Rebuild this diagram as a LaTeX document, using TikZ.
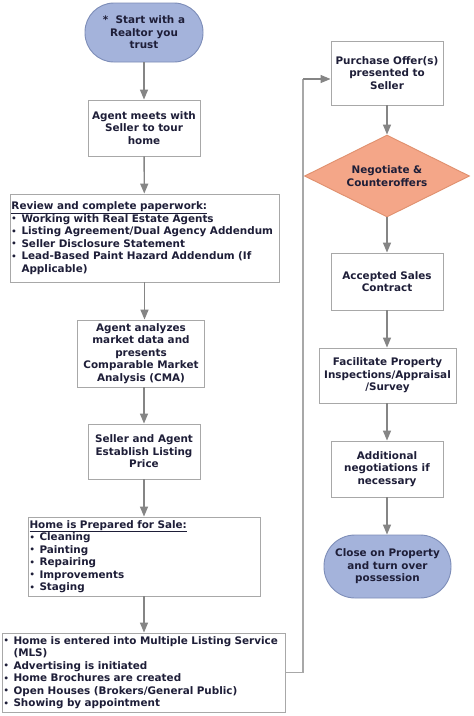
\documentclass[tikz,border=0pt]{standalone}
\usepackage{fontspec}
\setmainfont{DejaVu Sans}[BoldFont={DejaVu Sans Bold}]
\usetikzlibrary{arrows.meta,shapes.geometric}
\definecolor{txt}{HTML}{1E1E38}
\definecolor{boxline}{HTML}{A8A8A8}
\definecolor{arr}{HTML}{858585}
\definecolor{bluefill}{HTML}{A4B3DB}
\definecolor{blueline}{HTML}{7D8DB8}
\definecolor{salfill}{HTML}{F4A688}
\definecolor{salline}{HTML}{E0906E}
\newcommand{\bl}{\makebox[10pt][l]{\raisebox{0.5pt}{\scalebox{0.8}{\textbullet}}}}
\newcommand{\ind}{\hspace*{10pt}}
\begin{document}
\begin{tikzpicture}[x=1pt,y=-1pt,
  every node/.style={font=\bfseries\fontsize{10.4}{12.5}\selectfont, text=txt},
  stepbox/.style={draw=boxline, line width=0.9pt, fill=white, align=center, inner sep=1pt},
  listbox/.style={draw=boxline, line width=0.9pt, fill=white, align=left, inner sep=1.5pt},
  termbox/.style={draw=blueline, line width=0.9pt, fill=bluefill, align=center, inner sep=1pt},
  decbox/.style={diamond, draw=salline, line width=0.9pt, fill=salfill, align=center, inner sep=0pt, aspect=2},
  flow/.style={draw=arr, line width=1.4pt, -{Triangle[width=8pt,length=10pt]}},
  plain/.style={draw=boxline, line width=1.1pt}]
\useasboundingbox (0,0) rectangle (474,716);
\fill[white] (0,0) rectangle (474,716);

% left column
\node[termbox, minimum width=118pt, minimum height=59pt, rounded corners=29pt] (start) at (144,32.5)
  {*\ \ Start with a\\Realtor you\\trust};
\node[stepbox, minimum width=112pt, minimum height=56pt] (meet) at (144,128)
  {Agent meets with\\Seller to tour\\home};
\node[listbox, minimum width=269pt, minimum height=88pt, text width=266pt] (review) at (144.5,238)
  {\underline{Review and complete paperwork:}\\
   \bl Working with Real Estate Agents\\
   \bl Listing Agreement/Dual Agency Addendum\\
   \bl Seller Disclosure Statement\\
   \bl Lead-Based Paint Hazard Addendum (If\\
   \ind Applicable)};
\node[stepbox, minimum width=127pt, minimum height=67pt] (cma) at (141,353.5)
  {Agent analyzes\\market data and\\presents\\Comparable Market\\Analysis (CMA)};
\node[stepbox, minimum width=112pt, minimum height=55pt] (price) at (144,451.5)
  {Seller and Agent\\Establish Listing\\Price};
\node[listbox, minimum width=232pt, minimum height=79pt, text width=229pt] (prep) at (144,556.5)
  {\underline{Home is Prepared for Sale:}\\
   \bl Cleaning\\
   \bl Painting\\
   \bl Repairing\\
   \bl Improvements\\
   \bl Staging};
\node[listbox, minimum width=283pt, minimum height=79pt, text width=280pt] (mls) at (143.5,672.5)
  {\bl Home is entered into Multiple Listing Service\\
   \ind (MLS)\\
   \bl Advertising is initiated\\
   \bl Home Brochures are created\\
   \bl Open Houses (Brokers/General Public)\\
   \bl Showing by appointment};

% right column
\node[stepbox, minimum width=112pt, minimum height=64pt] (offer) at (387,73)
  {Purchase Offer(s)\\presented to\\Seller};
\node[decbox, minimum width=165pt, minimum height=82pt] (nego) at (387,176)
  {Negotiate \&\\Counteroffers};
\node[stepbox, minimum width=112pt, minimum height=57pt] (accept) at (387,281.5)
  {Accepted Sales\\Contract};
\node[stepbox, minimum width=137pt, minimum height=55pt] (insp) at (387.5,375.5)
  {Facilitate Property\\Inspections/Appraisal\\/Survey};
\node[stepbox, minimum width=112pt, minimum height=56pt] (addl) at (387,469)
  {Additional\\negotiations if\\necessary};
\node[termbox, minimum width=127pt, minimum height=63pt, rounded corners=31pt] (close) at (387.5,566.5)
  {Close on Property\\and turn over\\possession};

% connectors
\draw[flow] (start) -- (meet);
\draw[flow] (meet) -- (review);
\draw[flow] (review.south) -- (review.south |- cma.north);
\draw[flow] (cma.south -| price.north) -- (price.north);
\draw[flow] (price) -- (prep);
\draw[flow] (prep) -- (prep.south |- mls.north);
\draw[flow] (offer) -- (nego);
\draw[flow] (nego) -- (accept);
\draw[flow] (accept) -- (accept.south |- insp.north);
\draw[flow] (insp.south -| addl.north) -- (addl);
\draw[flow] (addl) -- (addl.south |- close.north);
\coordinate (jx) at (303,79);
\draw[plain] (mls.east) -| (jx);
\draw[flow, draw=arr, line width=1.1pt] (jx) -- (jx -| offer.west);
\end{tikzpicture}
\end{document}
